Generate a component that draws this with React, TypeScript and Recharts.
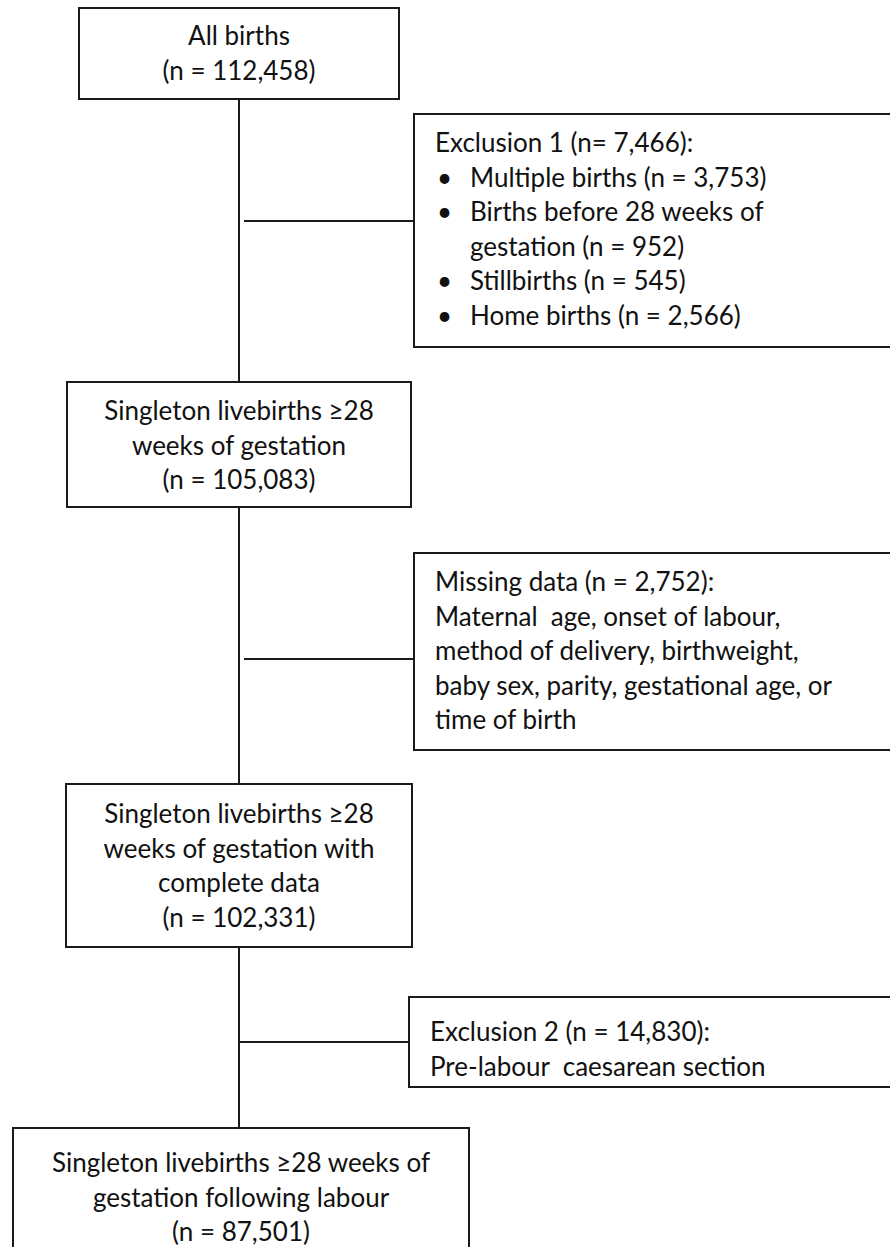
import { ScatterChart, Scatter, XAxis, YAxis, ReferenceArea, ReferenceLine } from 'recharts'

// flow steps (main column)
const stepLabels = [
  ['All births'],
  ['Singleton livebirths ≥28', 'weeks of gestation'],
  ['Singleton livebirths ≥28', 'weeks of gestation with', 'complete data'],
  ['Singleton livebirths ≥28 weeks of', 'gestation following labour'],
]
const stepCounts = [112458, 105083, 102331, 87501]

// exclusion side boxes
const exclusionTitles = ['Exclusion 1 (n= 7,466):', 'Missing data (n = 2,752):', 'Exclusion 2 (n = 14,830):']
const exclusion1Bullets = [
  ['Multiple births (n = 3,753)'],
  ['Births before 28 weeks of', 'gestation (n = 952)'],
  ['Stillbirths (n = 545)'],
  ['Home births (n = 2,566)'],
]
const missingLines = [
  'Maternal  age, onset of labour,',
  'method of delivery, birthweight,',
  'baby sex, parity, gestational age, or',
  'time of birth',
]
const exclusion2Lines = ['Pre-labour  caesarean section']

// layout (page pixels)
const W = 890
const H = 1247
const LINE = 34.6
const SPINE_X = 239
const stepBoxes = [
  { x1: 79, x2: 399, y1: 8, y2: 99, first: 45 },
  { x1: 67, x2: 411, y1: 382, y2: 507, first: 420 },
  { x1: 66, x2: 412, y1: 784, y2: 947, first: 823 },
  { x1: 13, x2: 469, y1: 1128, y2: 1249, first: 1172 },
]
const sideBoxes = [
  { x1: 414, x2: 896, y1: 114, y2: 347, first: 152, textX: 435, linkY: 221, linkFrom: 244 },
  { x1: 414, x2: 896, y1: 553, y2: 750, first: 591, textX: 435, linkY: 659, linkFrom: 244 },
  { x1: 409, x2: 896, y1: 997, y2: 1087, first: 1041, textX: 430, linkY: 1042, linkFrom: SPINE_X },
]

type TextPoint = { x: number; y: number; text: string; anchor: 'start' | 'middle' }

const fmt = (n: number) => n.toLocaleString('en-US')

const textPoints: TextPoint[] = []
stepLabels.forEach((lines, i) => {
  const b = stepBoxes[i]
  const all = [...lines, `(n = ${fmt(stepCounts[i])})`]
  all.forEach((t, j) => {
    textPoints.push({ x: (b.x1 + b.x2) / 2, y: b.first + j * LINE, text: t, anchor: 'middle' })
  })
})

const sideText: string[][] = [
  [exclusionTitles[0]],
  [exclusionTitles[1], ...missingLines],
  [exclusionTitles[2], ...exclusion2Lines],
]
sideText.forEach((lines, i) => {
  const b = sideBoxes[i]
  lines.forEach((t, j) => {
    textPoints.push({ x: b.textX, y: b.first + j * LINE, text: t, anchor: 'start' })
  })
})

// bulleted list in the first exclusion box
let row = 1
exclusion1Bullets.forEach((lines) => {
  const b = sideBoxes[0]
  textPoints.push({ x: b.textX + 2, y: b.first + row * LINE, text: '•', anchor: 'start' })
  lines.forEach((t) => {
    textPoints.push({ x: b.textX + 35, y: b.first + row * LINE, text: t, anchor: 'start' })
    row++
  })
})

const spine = stepBoxes.slice(1).map((b, i) => ({ from: stepBoxes[i].y2, to: b.y1 }))

const renderText = (props: any) => {
  const { cx, cy, payload } = props
  return (
    <text
      x={cx}
      y={cy}
      textAnchor={payload.anchor}
      fontFamily="Lato, 'DejaVu Sans', sans-serif"
      fontSize={26}
      fill="#111"
      style={{ whiteSpace: 'pre' }}
    >
      {payload.text}
    </text>
  )
}

export default function App() {
  return (
    <div style={{ position: 'absolute', left: 0, top: 0, width: W, height: H, background: '#fff' }}>
      <ScatterChart width={W} height={H} margin={{ top: 0, right: 0, bottom: 0, left: 0 }}>
        <XAxis type="number" dataKey="x" domain={[0, W]} hide />
        <YAxis type="number" dataKey="y" domain={[0, H]} reversed hide />

        {stepBoxes.map((b, i) => (
          <ReferenceArea
            key={`s${i}`}
            x1={b.x1}
            x2={b.x2}
            y1={b.y1}
            y2={b.y2}
            fill="none"
            fillOpacity={0}
            stroke="#1a1a1a"
            strokeWidth={2}
            strokeOpacity={1}
            ifOverflow="visible"
          />
        ))}
        {sideBoxes.map((b, i) => (
          <ReferenceArea
            key={`e${i}`}
            x1={b.x1}
            x2={b.x2}
            y1={b.y1}
            y2={b.y2}
            fill="none"
            fillOpacity={0}
            stroke="#1a1a1a"
            strokeWidth={2}
            strokeOpacity={1}
            ifOverflow="visible"
          />
        ))}

        {spine.map((s, i) => (
          <ReferenceLine
            key={`v${i}`}
            segment={[{ x: SPINE_X, y: s.from }, { x: SPINE_X, y: s.to }]}
            stroke="#1a1a1a"
            strokeWidth={2}
            ifOverflow="visible"
          />
        ))}
        {sideBoxes.map((b, i) => (
          <ReferenceLine
            key={`h${i}`}
            segment={[{ x: b.linkFrom, y: b.linkY }, { x: b.x1, y: b.linkY }]}
            stroke="#1a1a1a"
            strokeWidth={2}
            ifOverflow="visible"
          />
        ))}

        <Scatter data={textPoints} shape={renderText} isAnimationActive={false} />
      </ScatterChart>
    </div>
  )
}
